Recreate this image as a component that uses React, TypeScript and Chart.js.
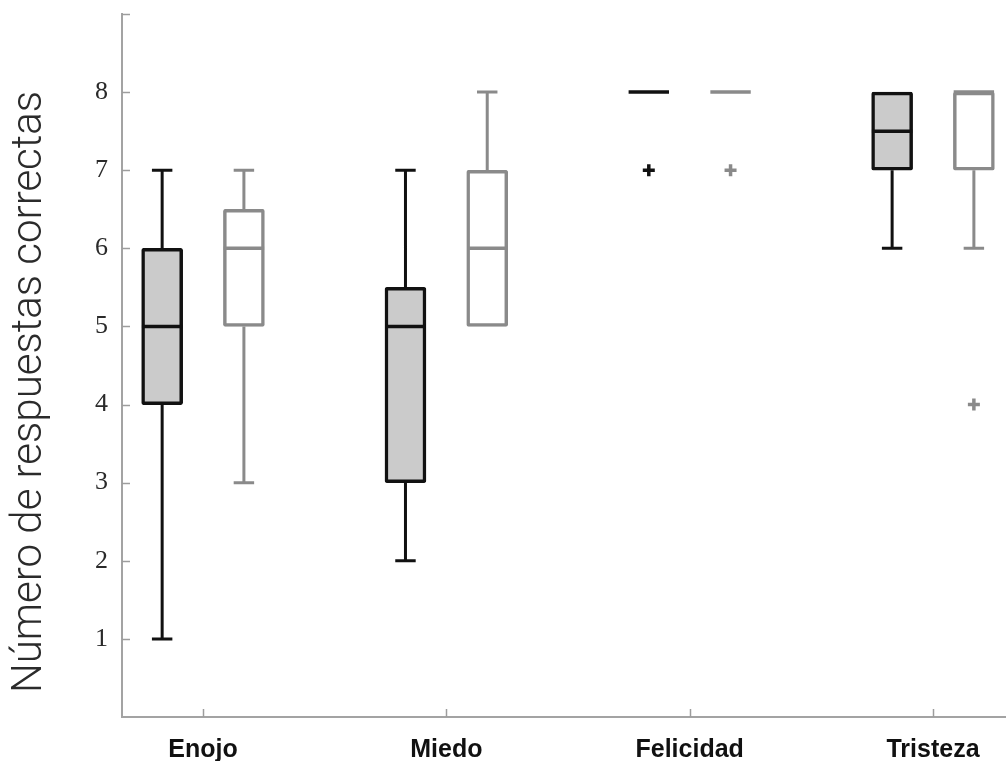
import React, { useEffect, useRef } from "react";
import { Chart, registerables } from "chart.js";

Chart.register(...registerables);

// ---- Data ----
const categories = ["Enojo", "Miedo", "Felicidad", "Tristeza"];
const yTickLabels = ["1", "2", "3", "4", "5", "6", "7", "8"];
const yTitle = "Número de respuestas correctas";

// Group A (black outline, grey fill)
const aMin = [1, 2, 8, 6];
const aQ1 = [4, 3, 8, 7];
const aMedian = [5, 5, 8, 7.5];
const aQ3 = [6, 5.5, 8, 8];
const aMax = [7, 7, 8, 8];
const aOutliers = [[], [], [7], []];

// Group B (grey outline, white fill)
const bMin = [3, 5, 8, 6];
const bQ1 = [5, 5, 8, 7];
const bMedian = [6, 6, 8, 8];
const bQ3 = [6.5, 7, 8, 8];
const bMax = [7, 8, 8, 8];
const bOutliers = [[], [], [7], [4]];

const GROUP_OFFSET = 0.168;
const BOX_HALF = 0.083;
const CAP_HALF = 0.042;

type Pt = { x: number; y: number | null };

function buildGroup(
  label: string,
  min: number[],
  q1: number[],
  med: number[],
  q3: number[],
  max: number[],
  outliers: number[][],
  offset: number,
  stroke: string,
  fill: string
) {
  const boxes = categories.map((_, i) => ({ x: i + 1 + offset, y: [q1[i], q3[i]] }));
  const whiskers: Pt[] = [];
  const medians: Pt[] = [];
  const outs: Pt[] = [];
  categories.forEach((_, i) => {
    const cx = i + 1 + offset;
    if (max[i] > q3[i]) {
      whiskers.push({ x: cx, y: q3[i] }, { x: cx, y: max[i] }, { x: cx, y: null });
      whiskers.push({ x: cx - CAP_HALF, y: max[i] }, { x: cx + CAP_HALF, y: max[i] }, { x: cx, y: null });
    }
    if (min[i] < q1[i]) {
      whiskers.push({ x: cx, y: q1[i] }, { x: cx, y: min[i] }, { x: cx, y: null });
      whiskers.push({ x: cx - CAP_HALF, y: min[i] }, { x: cx + CAP_HALF, y: min[i] }, { x: cx, y: null });
    }
    medians.push({ x: cx - BOX_HALF, y: med[i] }, { x: cx + BOX_HALF, y: med[i] }, { x: cx, y: null });
    outliers[i].forEach((v) => outs.push({ x: cx, y: v }));
  });
  return [
    {
      type: "bar" as const,
      label: label + " box",
      data: boxes,
      backgroundColor: fill,
      borderColor: stroke,
      borderWidth: 3.5,
      borderSkipped: false,
      borderRadius: 2,
      barThickness: 41,
      grouped: false,
      order: 3,
    },
    {
      type: "line" as const,
      label: label + " whiskers",
      data: whiskers,
      borderColor: stroke,
      borderWidth: 3,
      pointRadius: 0,
      spanGaps: false,
      tension: 0,
      fill: false,
      order: 2,
    },
    {
      type: "line" as const,
      label: label + " median",
      data: medians,
      borderColor: stroke,
      borderWidth: 3.5,
      pointRadius: 0,
      spanGaps: false,
      tension: 0,
      fill: false,
      order: 1,
    },
    {
      type: "scatter" as const,
      label: label + " outliers",
      data: outs,
      pointStyle: "cross",
      pointRadius: 6,
      pointBorderWidth: 3.5,
      borderColor: stroke,
      backgroundColor: stroke,
      showLine: false,
      order: 0,
    },
  ];
}

const decorPlugin = {
  id: "decor",
  afterDraw(chart: any) {
    const { ctx, chartArea, scales } = chart;
    const x = scales.x;
    const y = scales.y;
    ctx.save();
    ctx.strokeStyle = "#9d9d9d";
    ctx.lineWidth = 1.5;
    y.ticks.forEach((t: any) => {
      if (t.value <= y.min) return;
      const py = Math.round(y.getPixelForValue(t.value)) + 0.5;
      ctx.beginPath();
      ctx.moveTo(chartArea.left, py);
      ctx.lineTo(chartArea.left + 8, py);
      ctx.stroke();
    });
    x.ticks.forEach((t: any) => {
      const px = Math.round(x.getPixelForValue(t.value)) + 0.5;
      ctx.beginPath();
      ctx.moveTo(px, chartArea.bottom);
      ctx.lineTo(px, chartArea.bottom - 8);
      ctx.stroke();
    });
    // Y axis title
    ctx.translate(30, 392);
    ctx.rotate(-Math.PI / 2);
    ctx.fillStyle = "#2b2b2b";
    ctx.font = '300 42px Roboto, "Liberation Sans", sans-serif';
    ctx.textAlign = "center";
    ctx.textBaseline = "middle";
    ctx.fillText(yTitle, 0, 0);
    ctx.restore();
  },
};

export default function App() {
  const canvasRef = useRef<HTMLCanvasElement | null>(null);

  useEffect(() => {
    document.body.style.margin = "0";
    const canvas = canvasRef.current;
    if (!canvas) return;
    const datasets: any[] = [
      ...buildGroup("A", aMin, aQ1, aMedian, aQ3, aMax, aOutliers, -GROUP_OFFSET, "#111111", "#cbcbcb"),
      ...buildGroup("B", bMin, bQ1, bMedian, bQ3, bMax, bOutliers, GROUP_OFFSET, "#8a8a8a", "#ffffff"),
    ];
    const chart = new Chart(canvas, {
      type: "bar",
      data: { datasets },
      options: {
        animation: false,
        responsive: false,
        layout: { autoPadding: false, padding: { top: 14, right: 0, left: 0, bottom: 0 } },
        plugins: {
          legend: { display: false },
          tooltip: { enabled: false },
        },
        scales: {
          x: {
            type: "linear",
            min: 0.667,
            max: 4.3,
            offset: false,
            grid: { display: false, drawTicks: false, offset: false },
            border: { display: true, color: "#a3a3a3", width: 2 },
            afterBuildTicks: (scale: any) => {
              scale.ticks = categories.map((_, i) => ({ value: i + 1 }));
            },
            afterFit: (scale: any) => {
              scale.height = 44;
              scale.paddingLeft = 0;
              scale.paddingRight = 0;
            },
            ticks: {
              autoSkip: false,
              maxRotation: 0,
              padding: 18,
              color: "#111111",
              font: { family: '"Liberation Sans", Arial, sans-serif', size: 25, weight: "bold" },
              callback: (value: any) => categories[Math.round(Number(value)) - 1] ?? "",
            },
          },
          y: {
            type: "linear",
            min: 0,
            max: 9,
            grid: { display: false, drawTicks: false },
            border: { display: true, color: "#a3a3a3", width: 2 },
            afterFit: (scale: any) => {
              scale.width = 122;
              scale.paddingTop = 0;
              scale.paddingBottom = 0;
            },
            ticks: {
              stepSize: 1,
              padding: 14,
              color: "#2a2a2a",
              font: { family: '"Liberation Serif", "Times New Roman", serif', size: 26 },
              callback: (value: any) => {
                const v = Math.round(Number(value));
                return v >= 1 && v <= yTickLabels.length ? yTickLabels[v - 1] : "";
              },
            },
          },
        },
      },
      plugins: [decorPlugin],
    } as any);
    return () => chart.destroy();
  }, []);

  return (
    <div style={{ width: 1006, height: 761 }}>
      <canvas ref={canvasRef} width={1006} height={761} style={{ display: "block" }} />
    </div>
  );
}
